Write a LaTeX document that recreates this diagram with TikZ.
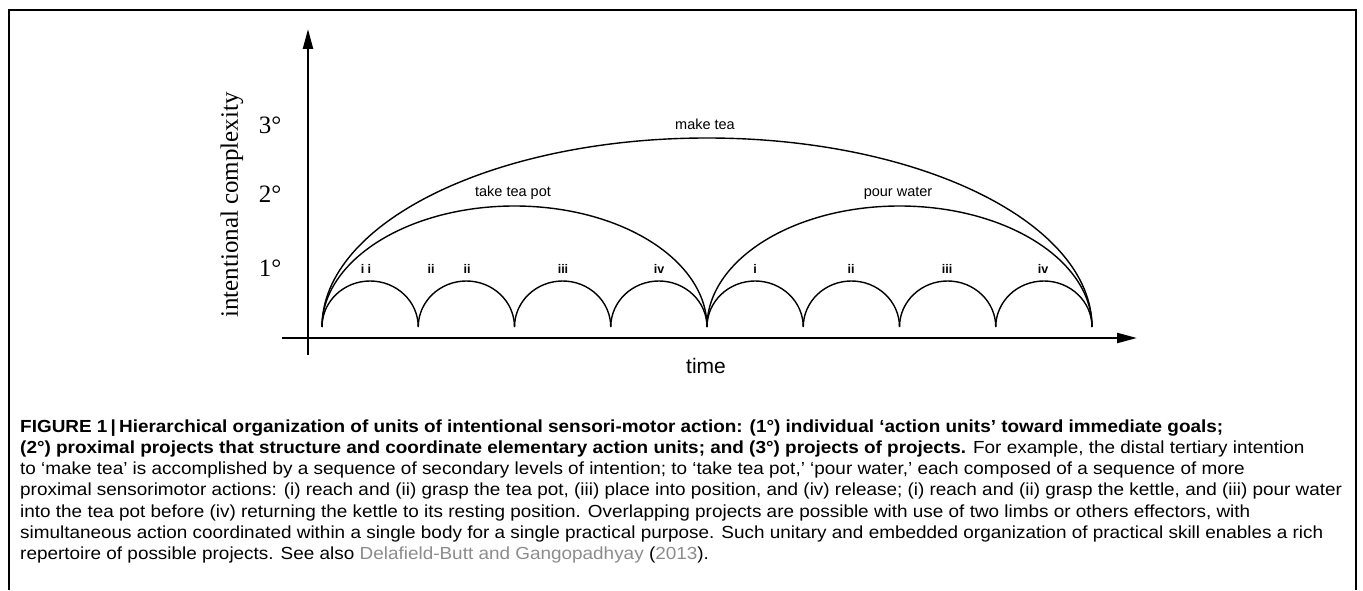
\documentclass[tikz,border=0pt]{standalone}
\usepackage{fontspec}
\setmainfont{Liberation Sans}
\newfontfamily\timesfont{Liberation Serif}
\usetikzlibrary{arrows.meta}
\definecolor{citegray}{RGB}{140,140,140}
\newlength\capw
\newcommand\capsize{\fontsize{17.5}{20}\selectfont}
\newcommand\capln[1]{\scalebox{\sx}[1]{\capsize #1}}
\begin{document}
\settowidth\capw{\capsize proximal sensorimotor actions: (i) reach and (ii) grasp the tea pot, (iii) place into position, and (iv) release; (i) reach and (ii) grasp the kettle, and (iii) pour water}
\pgfmathsetmacro\sx{1322/\capw}
\begin{tikzpicture}[x=1pt,y=1pt,
  axis/.style={line width=2.4pt,-{Triangle[length=20pt,width=10pt]}},
  arcline/.style={line width=1.4pt},
  frameline/.style={line width=2pt},
  unitlbl/.style={font=\fontsize{12.5}{12.5}\selectfont\bfseries, inner sep=0},
  projlbl/.style={font=\fontsize{14.5}{15}\selectfont, inner sep=0},
  levellbl/.style={font=\timesfont\fontsize{25}{25}\selectfont, inner sep=0},
  capline/.style={anchor=base west, inner sep=0}]
\useasboundingbox (0,0) rectangle (1363,590);
% frame
\coordinate (fbl) at (8.7,0);
\coordinate (ftl) at (8.7,580);
\coordinate (ftr) at (1356,580);
\coordinate (fbr) at (1356,0);
\draw[frameline] (fbl) -- (ftl) -- (ftr) -- (fbr);
% axes
\coordinate (yb) at (308,235);
\coordinate (yt) at (308,561);
\coordinate (xl) at (282,252);
\coordinate (xr) at (1137,252);
\draw[axis] (yb) -- (yt);
\draw[axis] (xl) -- (xr);
% cusps
\foreach \i in {0,...,8} {\coordinate (c\i) at (322+96.25*\i,263);}
% small arcs
\foreach \i in {0,...,7} {\draw[arcline] (c\i) arc[start angle=180,end angle=0,x radius=48.125,y radius=46];}
% medium arcs
\draw[arcline] (c0) arc[start angle=180,end angle=0,x radius=192.5,y radius=121];
\draw[arcline] (c4) arc[start angle=180,end angle=0,x radius=192.5,y radius=121];
% large arc
\draw[arcline] (c0) arc[start angle=180,end angle=0,x radius=385,y radius=189];
% labels
\node[projlbl] (mk) at (705,466) {make tea};
\node[projlbl] (tp) at (513,397) {take tea pot};
\node[projlbl] (pw) at (898,397) {pour water};
\node[unitlbl] (u1) at (366,321) {i i};
\node[unitlbl] (u2) at (431,321) {ii};
\node[unitlbl] (u3) at (467,321) {ii};
\node[unitlbl] (u4) at (563,321) {iii};
\node[unitlbl] (u5) at (659,321) {iv};
\node[unitlbl] (u6) at (755,321) {i};
\node[unitlbl] (u7) at (851,321) {ii};
\node[unitlbl] (u8) at (947,321) {iii};
\node[unitlbl] (u9) at (1043,321) {iv};
\node[levellbl] (l3) at (270,465) {3°};
\node[levellbl] (l2) at (270,396) {2°};
\node[levellbl] (l1) at (270,322) {1°};
\node[levellbl, rotate=90] (yl) at (232,385) {intentional complexity};
\node[font=\fontsize{21}{21}\selectfont, inner sep=0] (tm) at (706,224) {time};
% caption
\node[capline] (cap1) at (20,158) {\capln{\bfseries FIGURE 1\,|\,Hierarchical organization of units of intentional sensori-motor action: (1°) individual ‘action units’ toward immediate goals;}};
\node[capline] (cap2) at (20,136.7) {\capln{{\bfseries (2°) proximal projects that structure and coordinate elementary action units; and (3°) projects of projects.} For example, the distal tertiary intention}};
\node[capline] (cap3) at (20,115.4) {\capln{to ‘make tea’ is accomplished by a sequence of secondary levels of intention; to ‘take tea pot,’ ‘pour water,’ each composed of a sequence of more}};
\node[capline] (cap4) at (20,94.1) {\capln{proximal sensorimotor actions: (i) reach and (ii) grasp the tea pot, (iii) place into position, and (iv) release; (i) reach and (ii) grasp the kettle, and (iii) pour water}};
\node[capline] (cap5) at (20,72.8) {\capln{into the tea pot before (iv) returning the kettle to its resting position. Overlapping projects are possible with use of two limbs or others effectors, with}};
\node[capline] (cap6) at (20,51.5) {\capln{simultaneous action coordinated within a single body for a single practical purpose. Such unitary and embedded organization of practical skill enables a rich}};
\node[capline] (cap7) at (20,30.2) {\capln{repertoire of possible projects. See also {\color{citegray}Delafield-Butt and Gangopadhyay} ({\color{citegray}2013}).}};
\end{tikzpicture}
\end{document}
